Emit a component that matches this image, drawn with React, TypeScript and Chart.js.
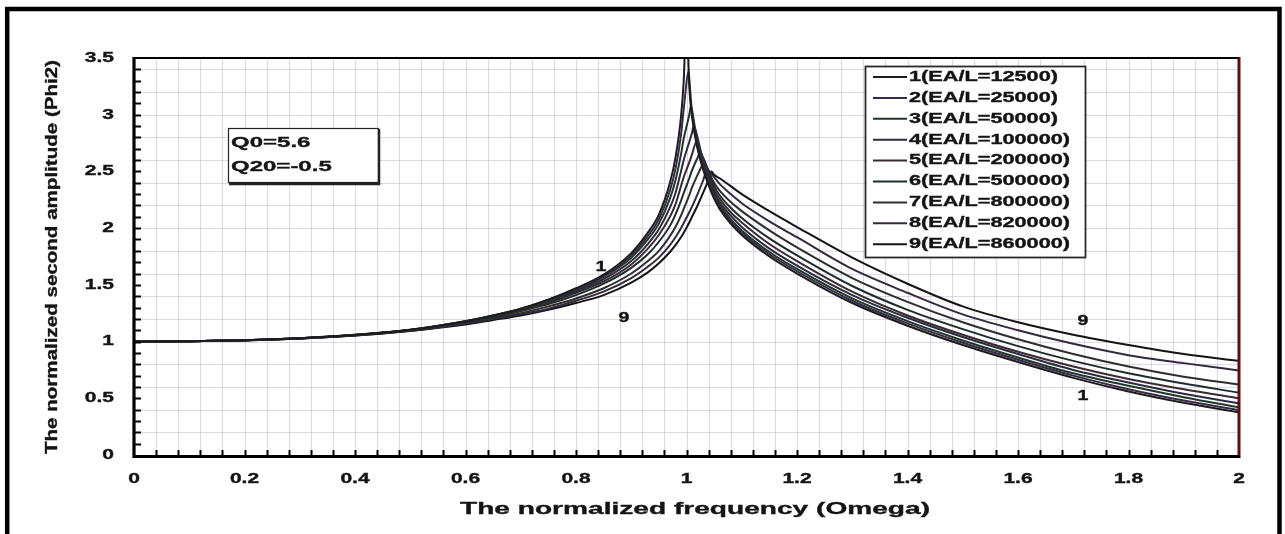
import React, { useEffect, useRef } from 'react';
import { Chart, registerables } from 'chart.js';

Chart.register(...registerables);

// ---------- data ----------
const OMEGA = [0, 0.1, 0.2, 0.3, 0.4, 0.5, 0.6, 0.65, 0.7, 0.75, 0.8, 0.85, 0.9, 0.93, 0.95, 0.97, 0.98, 0.99, 0.995, 1.005, 1.01, 1.02, 1.03, 1.04, 1.05, 1.06, 1.08, 1.1, 1.15, 1.2, 1.3, 1.4, 1.5, 1.6, 1.7, 1.8, 1.9, 2.0];

const PHI1 = [1.00, 1.003, 1.012, 1.03, 1.06, 1.105, 1.18, 1.23, 1.29, 1.37, 1.47, 1.59, 1.78, 1.96, 2.12, 2.40, 2.62, 2.98, 3.30, 3.25, 2.98, 2.70, 2.52, 2.38, 2.26, 2.17, 2.04, 1.94, 1.75, 1.60, 1.34, 1.14, 0.97, 0.82, 0.68, 0.56, 0.46, 0.375];
const PHI2 = [1.00, 1.003, 1.012, 1.03, 1.06, 1.104, 1.18, 1.23, 1.29, 1.37, 1.46, 1.58, 1.76, 1.93, 2.08, 2.33, 2.52, 2.82, 3.05, 3.32, 3.02, 2.72, 2.54, 2.40, 2.28, 2.19, 2.06, 1.96, 1.77, 1.62, 1.36, 1.16, 0.99, 0.84, 0.70, 0.58, 0.48, 0.395];
const PHI3 = [1.00, 1.003, 1.012, 1.03, 1.059, 1.103, 1.18, 1.22, 1.28, 1.36, 1.45, 1.57, 1.74, 1.90, 2.04, 2.26, 2.42, 2.65, 2.79, 3.00, 3.04, 2.75, 2.56, 2.42, 2.30, 2.21, 2.08, 1.98, 1.79, 1.64, 1.38, 1.18, 1.01, 0.86, 0.72, 0.61, 0.51, 0.42];
const PHI4 = [1.00, 1.003, 1.012, 1.029, 1.058, 1.102, 1.17, 1.22, 1.28, 1.35, 1.44, 1.55, 1.71, 1.86, 1.99, 2.18, 2.31, 2.50, 2.60, 2.76, 2.84, 2.80, 2.59, 2.45, 2.32, 2.23, 2.11, 2.01, 1.82, 1.67, 1.41, 1.21, 1.04, 0.89, 0.75, 0.64, 0.54, 0.455];
const PHI5 = [1.00, 1.003, 1.012, 1.029, 1.057, 1.101, 1.17, 1.22, 1.27, 1.34, 1.43, 1.53, 1.68, 1.82, 1.94, 2.10, 2.21, 2.37, 2.45, 2.58, 2.65, 2.74, 2.62, 2.47, 2.34, 2.26, 2.14, 2.05, 1.86, 1.71, 1.44, 1.23, 1.06, 0.91, 0.78, 0.67, 0.58, 0.50];
const PHI6 = [1.00, 1.003, 1.011, 1.028, 1.056, 1.099, 1.17, 1.21, 1.27, 1.33, 1.41, 1.51, 1.65, 1.77, 1.88, 2.02, 2.12, 2.24, 2.31, 2.44, 2.51, 2.62, 2.62, 2.50, 2.37, 2.29, 2.18, 2.09, 1.91, 1.76, 1.49, 1.28, 1.11, 0.96, 0.83, 0.72, 0.63, 0.55];
const PHI7 = [1.00, 1.003, 1.011, 1.028, 1.055, 1.097, 1.16, 1.20, 1.25, 1.31, 1.38, 1.47, 1.60, 1.71, 1.80, 1.93, 2.01, 2.11, 2.17, 2.29, 2.36, 2.47, 2.57, 2.50, 2.40, 2.33, 2.23, 2.15, 1.98, 1.83, 1.56, 1.35, 1.17, 1.02, 0.89, 0.78, 0.69, 0.62];
const PHI8 = [1.00, 1.003, 1.011, 1.027, 1.054, 1.095, 1.16, 1.20, 1.24, 1.29, 1.36, 1.44, 1.56, 1.66, 1.74, 1.85, 1.92, 2.00, 2.045, 2.14, 2.19, 2.30, 2.42, 2.51, 2.45, 2.39, 2.30, 2.22, 2.06, 1.92, 1.64, 1.43, 1.24, 1.10, 0.98, 0.88, 0.81, 0.745];
const PHI9 = [1.00, 1.003, 1.011, 1.027, 1.053, 1.094, 1.15, 1.19, 1.23, 1.28, 1.34, 1.41, 1.52, 1.61, 1.69, 1.79, 1.85, 1.92, 1.96, 2.05, 2.10, 2.20, 2.31, 2.43, 2.47, 2.44, 2.37, 2.30, 2.15, 2.01, 1.74, 1.51, 1.31, 1.17, 1.06, 0.97, 0.89, 0.83];

const PEAK_OMEGA = [1.0, 1.004, 1.008, 1.013, 1.018, 1.024, 1.031, 1.038, 1.045];
const PEAK_PHI = [3.9, 3.38, 3.08, 2.90, 2.76, 2.66, 2.58, 2.52, 2.50];

const SERIES = [PHI1, PHI2, PHI3, PHI4, PHI5, PHI6, PHI7, PHI8, PHI9];
const SERIES_NAMES = [
  '1(EA/L=12500)',
  '2(EA/L=25000)',
  '3(EA/L=50000)',
  '4(EA/L=100000)',
  '5(EA/L=200000)',
  '6(EA/L=500000)',
  '7(EA/L=800000)',
  '8(EA/L=820000)',
  '9(EA/L=860000)',
];
const COLORS = ['#1c1c1c', '#3a2848', '#1f3826', '#2a2a42', '#3b2a30', '#1d2d2d', '#2e2e2e', '#35283f', '#141414'];

const X_TICKS = [0, 0.2, 0.4, 0.6, 0.8, 1, 1.2, 1.4, 1.6, 1.8, 2];
const X_TICK_LABELS = ['0', '0.2', '0.4', '0.6', '0.8', '1', '1.2', '1.4', '1.6', '1.8', '2'];
const Y_TICKS = [0, 0.5, 1, 1.5, 2, 2.5, 3, 3.5];
const Y_TICK_LABELS = ['0', '0.5', '1', '1.5', '2', '2.5', '3', '3.5'];

const X_TITLE = 'The normalized frequency (Omega)';
const Y_TITLE = 'The normalized second amplitude (Phi2)';
const NOTE_LINES = ['Q0=5.6', 'Q20=-0.5'];

// ---------- drawing helpers ----------
const FAMILY = '"Liberation Sans", Arial, sans-serif';

function stretchText(
  ctx: CanvasRenderingContext2D,
  text: string,
  x: number,
  y: number,
  sx: number,
  font: string,
  align: CanvasTextAlign = 'left',
  color = '#141414'
) {
  ctx.save();
  ctx.translate(x, y);
  ctx.scale(sx, 1);
  ctx.font = font;
  ctx.textAlign = align;
  ctx.textBaseline = 'middle';
  ctx.fillStyle = color;
  ctx.strokeStyle = color;
  ctx.lineWidth = 0.35;
  ctx.fillText(text, 0, 0);
  ctx.strokeText(text, 0, 0);
  ctx.restore();
}

function fitText(ctx: CanvasRenderingContext2D, text: string, font: string, width: number) {
  ctx.save();
  ctx.font = font;
  const w = ctx.measureText(text).width;
  ctx.restore();
  return width / w;
}

const paperPlugin = {
  id: 'paper',
  beforeDraw(chart: any) {
    const ctx: CanvasRenderingContext2D = chart.ctx;
    const { left, right, top, bottom } = chart.chartArea;
    const xs = chart.scales.x;
    const ys = chart.scales.y;
    ctx.save();
    ctx.fillStyle = '#ffffff';
    ctx.fillRect(0, 0, chart.width, chart.height);

    // graph-paper grid
    ctx.lineWidth = 1;
    ctx.strokeStyle = 'rgba(190,176,212,0.5)';
    for (let i = 1; i < 50; i++) {
      const px = Math.round(xs.getPixelForValue(i * 0.04)) + 0.5;
      ctx.beginPath();
      ctx.moveTo(px, top);
      ctx.lineTo(px, bottom);
      ctx.stroke();
    }
    for (let j = 1; j < 18; j++) {
      const py = Math.round(ys.getPixelForValue(j * 0.2)) + 0.5;
      ctx.beginPath();
      ctx.moveTo(left, py);
      ctx.lineTo(right, py);
      ctx.stroke();
    }

    // outer frame
    ctx.strokeStyle = '#000';
    ctx.lineWidth = 4.5;
    ctx.beginPath();
    ctx.moveTo(7.2, chart.height + 5);
    ctx.lineTo(7.2, 9);
    ctx.lineTo(1279.5, 9);
    ctx.lineTo(1279.5, chart.height + 5);
    ctx.stroke();
    ctx.restore();
  },
  afterDatasetsDraw(chart: any) {
    const ctx: CanvasRenderingContext2D = chart.ctx;
    const { left, right, top, bottom } = chart.chartArea;
    const xs = chart.scales.x;
    const ys = chart.scales.y;
    ctx.save();

    // plot frame
    ctx.strokeStyle = '#000';
    ctx.lineWidth = 2;
    ctx.beginPath();
    ctx.moveTo(left, top);
    ctx.lineTo(right, top);
    ctx.stroke();
    ctx.strokeStyle = '#5c1010';
    ctx.lineWidth = 3;
    ctx.beginPath();
    ctx.moveTo(right, top - 1);
    ctx.lineTo(right, bottom);
    ctx.stroke();
    ctx.strokeStyle = '#000';
    ctx.lineWidth = 3.2;
    ctx.beginPath();
    ctx.moveTo(left, top - 1);
    ctx.lineTo(left, bottom + 1.5);
    ctx.lineTo(right + 1.5, bottom + 1.5);
    ctx.stroke();

    // inward tick marks
    ctx.lineWidth = 2;
    for (let j = 1; j < 35; j++) {
      const py = Math.round(ys.getPixelForValue(j * 0.1)) + 0.5;
      ctx.beginPath();
      ctx.moveTo(left, py);
      ctx.lineTo(left + 7, py);
      ctx.stroke();
    }
    for (let i = 1; i < 50; i++) {
      const px = Math.round(xs.getPixelForValue(i * 0.04)) + 0.5;
      ctx.beginPath();
      ctx.moveTo(px, bottom);
      ctx.lineTo(px, bottom - 5);
      ctx.stroke();
    }

    // tick labels
    const tickFont = `bold 14px ${FAMILY}`;
    Y_TICKS.forEach((v, i) => {
      stretchText(ctx, Y_TICK_LABELS[i], 114, ys.getPixelForValue(v), 1.5, tickFont, 'right');
    });
    X_TICKS.forEach((v, i) => {
      stretchText(ctx, X_TICK_LABELS[i], xs.getPixelForValue(v), 479, 1.5, tickFont, 'center');
    });

    // axis titles
    const titleFont = `bold 17px ${FAMILY}`;
    stretchText(ctx, X_TITLE, 695, 509, fitText(ctx, X_TITLE, titleFont, 470), titleFont, 'center');
    const yFont = `bold 17px ${FAMILY}`;
    ctx.save();
    ctx.translate(52, 257);
    ctx.rotate(-Math.PI / 2);
    stretchText(ctx, Y_TITLE, 0, 0, fitText(ctx, Y_TITLE, yFont, 394), yFont, 'center');
    ctx.restore();

    // note box
    ctx.fillStyle = '#ffffff';
    ctx.fillRect(228, 128, 151, 55);
    ctx.strokeStyle = '#222';
    ctx.lineWidth = 1.2;
    ctx.strokeRect(228.5, 128.5, 150, 54);
    ctx.lineWidth = 2.5;
    ctx.beginPath();
    ctx.moveTo(379, 129);
    ctx.lineTo(379, 184);
    ctx.lineTo(229, 184);
    ctx.stroke();
    const noteFont = `bold 15px ${FAMILY}`;
    stretchText(ctx, NOTE_LINES[0], 231, 143, 1.6, noteFont, 'left');
    stretchText(ctx, NOTE_LINES[1], 231, 167, 1.6, noteFont, 'left');

    // legend box
    ctx.fillStyle = '#ffffff';
    ctx.fillRect(865, 66, 221, 192);
    ctx.strokeStyle = '#2a2a2a';
    ctx.lineWidth = 1.8;
    ctx.strokeRect(865.5, 66.5, 220, 191);
    const legFont = `bold 14px ${FAMILY}`;
    SERIES_NAMES.forEach((name, k) => {
      const y = 77 + k * 20.9;
      ctx.strokeStyle = COLORS[k];
      ctx.lineWidth = 2;
      ctx.beginPath();
      ctx.moveTo(873, y);
      ctx.lineTo(907, y);
      ctx.stroke();
      stretchText(ctx, name, 909, y, 1.55, legFont, 'left');
    });

    // curve labels
    const labFont = `bold 14px ${FAMILY}`;
    stretchText(ctx, '1', 601, 267, 1.4, labFont, 'center');
    stretchText(ctx, '9', 624, 318, 1.4, labFont, 'center');
    stretchText(ctx, '9', 1083, 321, 1.4, labFont, 'center');
    stretchText(ctx, '1', 1083, 396, 1.4, labFont, 'center');

    ctx.restore();
  },
};

function buildPoints(k: number) {
  const pts = OMEGA.map((w, i) => ({ x: w, y: SERIES[k][i] }));
  pts.push({ x: PEAK_OMEGA[k], y: PEAK_PHI[k] });
  pts.sort((a, b) => a.x - b.x);
  return pts;
}

export default function App() {
  const ref = useRef<HTMLCanvasElement | null>(null);

  useEffect(() => {
    if (!ref.current) return;
    const datasets = SERIES_NAMES.map((name, k) => ({
      label: name,
      data: buildPoints(k),
      borderColor: COLORS[k],
      backgroundColor: COLORS[k],
      borderWidth: 2,
      pointRadius: 0,
      fill: false,
      cubicInterpolationMode: 'monotone' as const,
    }));
    const chart = new Chart(ref.current, {
      type: 'line',
      data: { datasets },
      options: {
        animation: false,
        responsive: false,
        maintainAspectRatio: false,
        events: [],
        layout: { padding: { left: 134, right: 46, top: 58, bottom: 79 } },
        plugins: { legend: { display: false }, tooltip: { enabled: false } },
        scales: {
          x: { type: 'linear', min: 0, max: 2, display: false },
          y: { type: 'linear', min: 0, max: 3.5, display: false },
        },
      },
      plugins: [paperPlugin],
    });
    return () => chart.destroy();
  }, []);

  return (
    <div style={{ position: 'fixed', left: 0, top: 0, width: 1285, height: 534, background: '#fff' }}>
      <canvas ref={ref} width={1285} height={534} style={{ display: 'block', width: 1285, height: 534 }} />
    </div>
  );
}
